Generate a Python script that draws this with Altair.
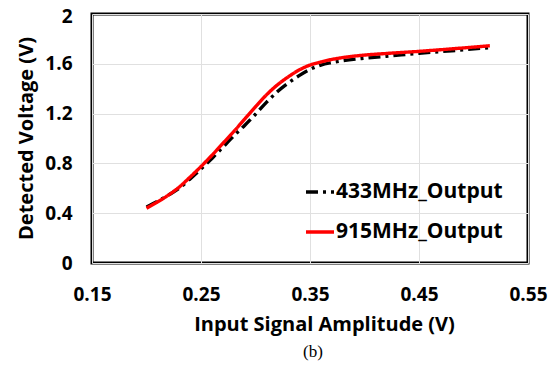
import altair as alt
import pandas as pd

x_vals = [0.20, 0.21, 0.22, 0.23, 0.24, 0.25, 0.26, 0.27, 0.28, 0.29, 0.30, 0.31,
          0.32, 0.33, 0.34, 0.35, 0.36, 0.37, 0.38, 0.40, 0.42, 0.45, 0.48, 0.515]
v433 = [0.45, 0.495, 0.545, 0.60, 0.675, 0.755, 0.84, 0.93, 1.02, 1.105, 1.195, 1.29,
        1.375, 1.445, 1.505, 1.555, 1.59, 1.61, 1.625, 1.645, 1.66, 1.685, 1.705, 1.73]
v915 = [0.44, 0.49, 0.545, 0.61, 0.69, 0.775, 0.865, 0.96, 1.055, 1.155, 1.255, 1.35,
        1.43, 1.495, 1.55, 1.59, 1.615, 1.635, 1.65, 1.67, 1.683, 1.70, 1.72, 1.745]
series = ["433MHz_Output", "915MHz_Output"]

rows = []
for xv, a, b in zip(x_vals, v433, v915):
    rows.append({"x": xv, "v": a, "s": series[0]})
    rows.append({"x": xv, "v": b, "s": series[1]})
df = pd.DataFrame(rows)

FONT = "Open Sans"

chart = alt.Chart(df).mark_line(strokeWidth=3.4, interpolate="monotone").encode(
    x=alt.X("x:Q", scale=alt.Scale(domain=[0.15, 0.55], nice=False),
            axis=alt.Axis(values=[0.15, 0.25, 0.35, 0.45, 0.55], format=".2f",
                          title="Input Signal Amplitude (V)", titleX=232, titleY=51,
                          labelPadding=22, labelFlush=False)),
    y=alt.Y("v:Q", scale=alt.Scale(domain=[0, 2], nice=False),
            axis=alt.Axis(values=[0, 0.4, 0.8, 1.2, 1.6, 2], labelExpr="datum.value == 0 || datum.value == 2 ? format(datum.value, 'd') : format(datum.value, '.1f')",
                          title="Detected Voltage (V)", labelPadding=20, titleX=-56, titleY=124,
                          labelFlush=False,
                          labelOffset={"expr": "datum.value == 2 ? 2 : 0"})),
    color=alt.Color("s:N", scale=alt.Scale(domain=series, range=["#000000", "#ff0000"]),
                    legend=alt.Legend(title=None, orient="none", legendX=212, legendY=162,
                                      symbolType="stroke", symbolSize=784, symbolStrokeWidth=3.4,
                                      labelFontSize=21, labelFont=FONT, labelFontWeight="bold",
                                      labelColor="#000000", rowPadding=14, labelOffset=0,
                                      labelLimit=400)),
    strokeDash=alt.StrokeDash("s:N", scale=alt.Scale(domain=series, range=[[12, 5, 3, 5], [1, 0]]),
                              legend=None),
).properties(
    width=436, height=249,
    title=alt.TitleParams(text="(b)", orient="bottom", font="Liberation Serif", fontSize=17,
                          fontWeight="normal", color="#000000", offset=10, dx=3),
    padding={"left": 84, "top": 6, "right": 24, "bottom": 101},
    autosize=alt.AutoSizeParams(type="none"),
).configure_view(
    stroke="#000000", strokeWidth=3
).configure_axis(
    domain=False, ticks=False, grid=True, gridColor="#e0e0e0", gridWidth=1,
    labelFont=FONT, labelFontSize=19, labelFontWeight="bold", labelColor="#000000",
    titleFont=FONT, titleFontSize=20, titleFontWeight="bold", titleColor="#000000",
).configure_legend(strokeColor=None)

chart.save("out.html", embed_options={"renderer": "svg", "actions": False})
